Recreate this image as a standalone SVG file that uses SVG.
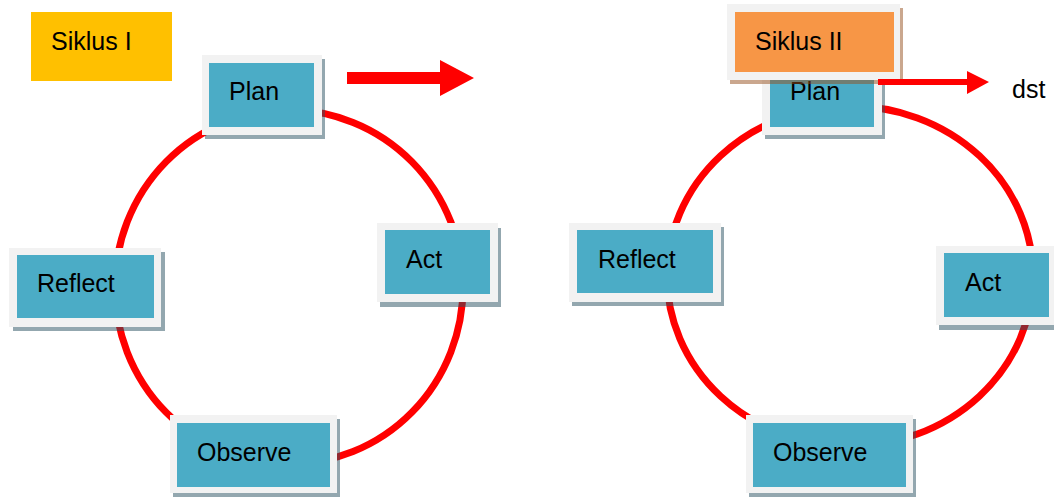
<svg xmlns="http://www.w3.org/2000/svg" width="1054" height="497" viewBox="0 0 1054 497">
<style>
.frame{fill:#f2f2f2}
.shadow{fill:rgb(40,80,95);fill-opacity:0.5}
.oshadow{fill:rgb(150,80,30);fill-opacity:0.5}
.inner{fill:#4bacc6}
.lbl{font-family:"Liberation Sans",Arial,sans-serif;font-size:25px;fill:#000}
.cyc{fill:none;stroke:#ff0000;stroke-width:7}
</style>
<rect width="1054" height="497" fill="#ffffff"/>
<g id="connectors">
<ellipse class="cyc" cx="289" cy="287" rx="174" ry="177"/>
<ellipse class="cyc" cx="850" cy="276" rx="183" ry="170"/>
</g>
<g id="siklus1">
<rect x="31" y="12" width="141" height="69" fill="#ffc000"/>
<text class="lbl" x="51" y="50">Siklus I</text>
</g>
<g id="plan1">
<rect class="shadow" x="205" y="59" width="120" height="80"/>
<rect class="frame" x="202" y="55" width="120" height="80"/>
<rect class="inner" x="209" y="63" width="105" height="64"/>
<text class="lbl" x="229" y="100">Plan</text>
</g>
<g id="act1">
<rect class="shadow" x="380" y="228" width="121" height="79"/>
<rect class="frame" x="377" y="223" width="121" height="79"/>
<rect class="inner" x="385" y="230" width="105" height="64"/>
<text class="lbl" x="406" y="268">Act</text>
</g>
<g id="reflect1">
<rect class="shadow" x="13" y="252" width="152" height="79"/>
<rect class="frame" x="9" y="248" width="152" height="79"/>
<rect class="inner" x="17" y="255" width="137" height="63"/>
<text class="lbl" x="37" y="292">Reflect</text>
</g>
<g id="observe1">
<rect class="shadow" x="173" y="419" width="167" height="78"/>
<rect class="frame" x="170" y="415" width="167" height="78"/>
<rect class="inner" x="177" y="423" width="153" height="64"/>
<text class="lbl" x="197" y="461">Observe</text>
</g>
<g id="plan2">
<rect class="shadow" x="765" y="59" width="120" height="80"/>
<rect class="frame" x="762" y="55" width="120" height="80"/>
<rect class="inner" x="770" y="63" width="104" height="64"/>
<text class="lbl" x="790" y="100">Plan</text>
</g>
<g id="act2">
<rect class="shadow" x="939" y="251" width="121" height="79"/>
<rect class="frame" x="936" y="246" width="121" height="79"/>
<rect class="inner" x="944" y="253" width="105" height="64"/>
<text class="lbl" x="965" y="291">Act</text>
</g>
<g id="reflect2">
<rect class="shadow" x="572" y="227" width="152" height="79"/>
<rect class="frame" x="569" y="223" width="152" height="79"/>
<rect class="inner" x="577" y="230" width="136" height="63"/>
<text class="lbl" x="598" y="268">Reflect</text>
</g>
<g id="observe2">
<rect class="shadow" x="749" y="419" width="167" height="78"/>
<rect class="frame" x="746" y="415" width="167" height="78"/>
<rect class="inner" x="753" y="423" width="153" height="64"/>
<text class="lbl" x="773" y="461">Observe</text>
</g>
<g id="siklus2">
<rect class="oshadow" x="730" y="8" width="173" height="76"/>
<rect class="frame" x="727" y="4" width="173" height="76"/>
<rect x="735" y="12" width="159" height="60" fill="#f79646"/>
<text class="lbl" x="755" y="50">Siklus II</text>
</g>
<g id="arrows">
<polygon points="347,72 440,72 440,60 474,78 440,96 440,84 347,84" fill="#ff0000"/>
<polygon points="878,79 967,79 967,71 989,82 967,94 967,85 878,85" fill="#ff0000"/>
</g>
<g id="dst">
<text class="lbl" x="1012" y="98">dst</text>
</g>
</svg>
